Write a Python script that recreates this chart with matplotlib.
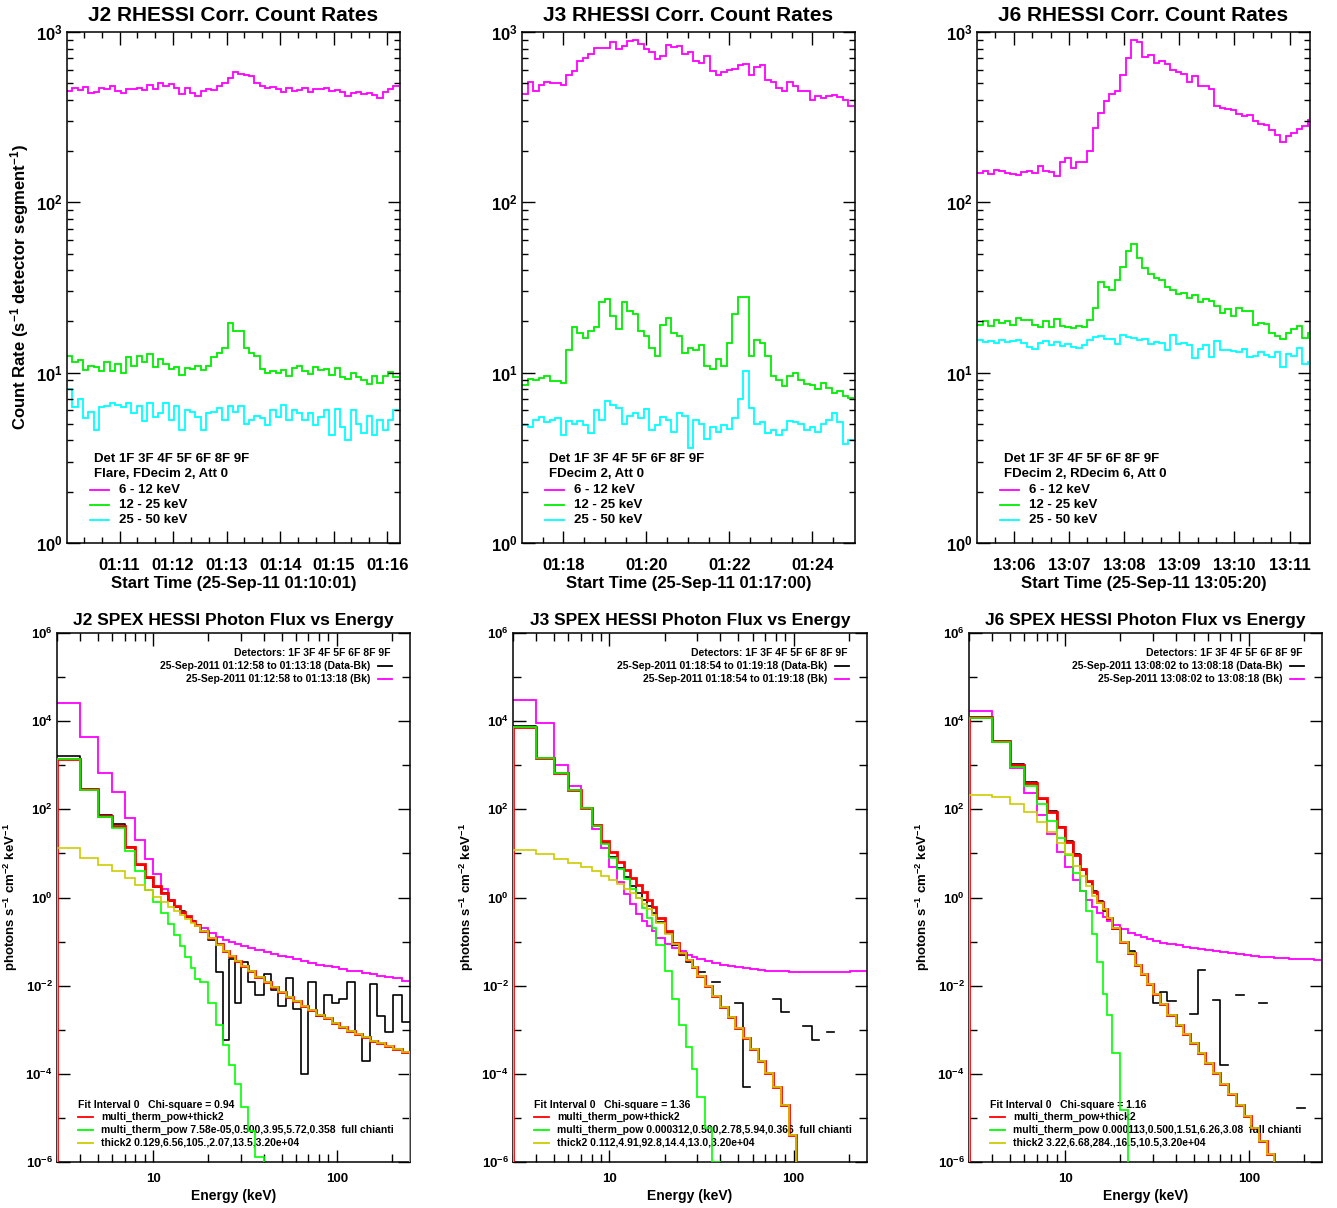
import numpy as np
import matplotlib
matplotlib.use("Agg")
import matplotlib.pyplot as plt
from matplotlib.ticker import FixedLocator, FuncFormatter, NullFormatter

plt.rcParams['font.family'] = 'Liberation Sans'
plt.rcParams['font.weight'] = 'bold'
plt.rcParams['axes.labelweight'] = 'bold'
plt.rcParams['axes.titleweight'] = 'bold'
plt.rcParams['mathtext.fontset'] = 'custom'
plt.rcParams['mathtext.rm'] = 'Liberation Sans:bold'
plt.rcParams['mathtext.it'] = 'Liberation Sans:bold'
plt.rcParams['mathtext.bf'] = 'Liberation Sans:bold'
plt.rcParams['mathtext.default'] = 'bf'

# ---------------- count rate light curves (top row) ----------------
# J2: 01:10:01, 6 s bins
j2_t0, j2_dt = 10 + 1 / 60, 6
j2_lo = [450, 470, 455, 475, 440, 445, 470, 460, 480, 450,
         440, 465, 460, 470, 455, 490, 460, 500, 480, 495,
         470, 430, 470, 440, 420, 450, 465, 455, 480, 500,
         540, 585, 570, 560, 555, 500, 480, 470, 475, 460,
         445, 470, 450, 455, 470, 445, 465, 460, 470, 450,
         455, 445, 420, 440, 445, 430, 440, 425, 410, 445,
         460, 480]
j2_mid = [12.5, 11.5, 11.8, 10.3, 11.0, 10.8, 10.2, 11.6, 10.2, 11.2,
          10.0, 12.3, 11.0, 12.5, 11.5, 12.8, 10.8, 12.0, 11.2, 10.5,
          10.8, 9.7, 10.6, 10.5, 10.9, 10.3, 11.0, 12.3, 13.0, 14.0,
          19.5, 17.5, 17.5, 14.0, 13.0, 12.5, 10.5, 10.0, 10.2, 10.0,
          10.3, 9.6, 10.6, 11.0, 10.2, 9.8, 10.8, 10.3, 10.5, 9.7,
          10.7, 9.4, 9.2, 10.0, 9.4, 9.0, 8.6, 9.5, 8.7, 9.6,
          10.1, 9.4]
j2_hi = [8.0, 6.3, 7.0, 5.4, 5.9, 4.6, 6.3, 6.4, 6.6, 6.5,
         6.3, 6.6, 5.8, 6.4, 5.2, 6.6, 5.5, 5.8, 6.6, 5.3,
         6.4, 4.6, 6.0, 5.9, 5.5, 4.6, 5.8, 5.9, 6.2, 5.3,
         6.4, 5.9, 6.4, 5.0, 5.3, 5.6, 5.4, 4.9, 6.0, 5.5,
         6.5, 5.3, 6.0, 5.8, 5.3, 5.8, 4.9, 5.5, 6.0, 4.3,
         6.1, 4.8, 4.0, 6.0, 5.0, 4.4, 5.6, 4.3, 5.3, 4.6,
         5.3, 6.0]

# J3: 01:17:00, 8 s bins
j3_t0, j3_dt = 17.0, 8
j3_lo = [430, 510, 450, 490, 510, 505, 500, 490, 560, 590,
         680, 700, 740, 810, 810, 810, 870, 800, 830, 890,
         900, 850, 790, 760, 690, 720, 840, 820, 830, 740,
         760, 680, 660, 720, 590, 560, 580, 600, 610, 640,
         650, 560, 620, 640, 520, 510, 470, 450, 510, 480,
         450, 450, 400, 420, 410, 420, 425, 415, 400, 370]
j3_mid = [8.5, 9.2, 9.0, 9.3, 9.6, 8.9, 8.9, 8.7, 13.5, 18.5,
          17.0, 16.0, 17.5, 18.5, 26.0, 27.0, 21.5, 18.0, 26.0, 23.0,
          22.0, 17.5, 16.5, 14.0, 12.5, 19.0, 21.0, 17.0, 16.5, 13.0,
          14.0, 13.5, 14.5, 11.0, 10.5, 12.0, 11.0, 15.0, 22.0, 28.0,
          28.0, 12.5, 15.5, 15.0, 12.5, 9.5, 9.0, 8.3, 9.5, 10.0,
          9.0, 8.6, 8.5, 8.0, 8.7, 8.1, 7.6, 7.8, 7.3, 7.1]
j3_hi = [4.9, 4.8, 5.3, 5.5, 5.1, 5.3, 5.4, 4.3, 5.2, 5.0,
         5.2, 4.9, 4.4, 6.0, 5.3, 6.8, 6.5, 6.2, 5.0, 5.6,
         5.8, 5.4, 6.1, 4.6, 4.9, 5.5, 5.3, 4.5, 5.8, 5.6,
         3.6, 5.3, 5.0, 4.1, 4.8, 4.5, 4.9, 4.7, 5.4, 7.0,
         10.2, 6.2, 5.0, 5.1, 4.4, 4.6, 4.3, 4.6, 5.2, 5.1,
         5.0, 4.6, 4.8, 4.5, 5.0, 5.3, 5.8, 5.1, 3.8, 4.0]

# J6: 13:05:20, 6 s bins
j6_t0, j6_dt = 5 + 20 / 60, 6
j6_lo = [148, 153, 146, 155, 152, 148, 146, 144, 151, 152,
         148, 163, 153, 150, 143, 172, 183, 160, 172, 173,
         200, 275, 335, 395, 430, 450, 560, 700, 900, 870,
         710, 730, 660, 680, 650, 600, 580, 565, 510, 550,
         485, 480, 465, 370, 360, 355, 350, 330, 320, 325,
         300, 290, 285, 265, 250, 225, 245, 255, 270, 280,
         305]
j6_mid = [19.0, 20.0, 18.8, 20.5, 19.5, 20.2, 19.0, 21.0, 20.5, 20.5,
          19.0, 18.5, 20.0, 18.6, 20.6, 18.8, 18.5, 18.2, 18.8, 18.5,
          20.5, 24.0, 34.0, 32.0, 30.5, 35.0, 42.0, 52.0, 57.0, 47.0,
          41.0, 38.0, 36.0, 35.0, 32.0, 30.5, 29.0, 29.5, 27.5, 28.5,
          26.0, 27.0, 26.5, 24.5, 22.5, 23.5, 21.5, 24.0, 23.0, 23.0,
          19.0, 19.5, 19.3, 17.0, 16.5, 15.8, 17.0, 18.0, 18.8, 16.0,
          17.2]
j6_hi = [15.5, 15.2, 15.4, 15.0, 15.5, 15.2, 15.4, 15.6, 15.0, 14.2,
         13.8, 15.0, 15.3, 14.6, 15.2, 14.4, 14.8, 14.2, 14.0, 14.5,
         15.6, 16.2, 16.4, 15.8, 15.8, 14.8, 16.6, 16.3, 16.0, 15.5,
         15.7, 14.8, 15.2, 15.0, 13.6, 16.7, 14.8, 14.9, 14.6, 12.2,
         13.8, 14.6, 12.3, 15.3, 13.5, 13.6, 13.4, 13.2, 13.7, 12.3,
         12.5, 13.3, 12.7, 12.4, 13.2, 10.8, 12.9, 12.6, 14.0, 11.3,
         11.6]

# ---------------- SPEX photon spectra (bottom row) ----------------
e_edges = [3, 4, 5, 6, 7, 8, 9, 10, 11, 12, 13, 14, 15, 16, 17, 18, 20, 22,
           24, 26, 28, 30, 33, 36, 40, 44, 48, 53, 58, 64, 70, 77, 85, 94,
           103, 113, 125, 137, 151, 166, 183, 202, 225, 250]
nan = np.nan

j2_bk = [26000, 4300, 660, 245, 63, 20, 7.6, 3.5, 1.6, 0.9, 0.6, 0.45, 0.36,
         0.29, 0.24, 0.2, 0.16, 0.13, 0.11, 0.1, 0.09, 0.08, 0.07, 0.064,
         0.058, 0.052, 0.047, 0.044, 0.04, 0.036, 0.033, 0.03, 0.028, 0.026,
         0.024, 0.022, 0.021, 0.019, 0.018, 0.017, 0.016, 0.015, 0.013]
j2_data = [1600, 290, 75, 47, 14, 5.5, 2.8, 1.75, 1.25, 0.85, 0.62, 0.5, 0.36,
           0.3, 0.22, 0.17, 0.11, 0.02, 0.0006, 0.04, 0.004, 0.035, 0.012,
           0.006, 0.018, 0.008, 0.0035, 0.015, 0.003, 0.0001, 0.012, 0.002,
           0.006, 0.004, 0.005, 0.012, 0.0008, 0.0002, 0.011, 0.002, 0.0009,
           0.006, 0.0015]
j2_total = [1400, 290, 72, 41, 14.3, 5.9, 2.95, 1.85, 1.25, 0.87, 0.64, 0.48,
            0.375, 0.295, 0.234, 0.176, 0.122, 0.086, 0.062, 0.047, 0.037,
            0.028, 0.021, 0.016, 0.012, 0.0092, 0.0072, 0.0056, 0.0044,
            0.0035, 0.0028, 0.0022, 0.0018, 0.0014, 0.00115, 0.00095, 0.0008,
            0.00067, 0.00057, 0.00049, 0.00042, 0.00036, 0.00031]
j2_therm = [1400, 280, 66, 37, 11.5, 3.9, 1.5, 0.8, 0.45, 0.25, 0.14, 0.08,
            0.045, 0.025, 0.014, 0.012, 0.004, 0.0013, 4.5e-4, 1.6e-4, 6e-5,
            1.8e-5, 5e-6, 1.3e-6, 3e-7, 6e-8]
j2_thick = [13, 8, 5.5, 3.9, 2.8, 1.95, 1.45, 1.05, 0.8, 0.62, 0.5, 0.4, 0.33,
            0.27, 0.22, 0.17, 0.12, 0.085, 0.062, 0.047, 0.037, 0.028, 0.021,
            0.016, 0.012, 0.0092, 0.0072, 0.0056, 0.0044, 0.0035, 0.0028,
            0.0022, 0.0018, 0.0014, 0.00115, 0.00095, 0.0008, 0.00067,
            0.00057, 0.00049, 0.00042, 0.00036, 0.00031]

j3_bk = [30000, 9000, 1000, 330, 110, 36, 13, 5, 2.3, 1.2, 0.7, 0.42, 0.3,
         0.22, 0.17, 0.12, 0.09, 0.07, 0.06, 0.05, 0.045, 0.04, 0.036, 0.033,
         0.03, 0.028, 0.026, 0.025, 0.024, 0.023, 0.022, 0.021, 0.021, 0.02,
         0.02, 0.02, 0.02, 0.02, 0.02, 0.02, 0.02, 0.021, 0.021]
j3_data = [7800, 1480, 670, 280, 107, 42, 17, 8.3, 4.7, 2.9, 1.8, 1.26, 0.89,
           0.63, 0.45, 0.28, 0.16, 0.085, 0.05, 0.035, nan, 0.02, nan, 0.012,
           nan, nan, 0.004, 5e-5, nan, nan, nan, 0.005, 0.0025, nan, nan,
           0.0012, 0.0006, nan, 0.0009, nan, nan, nan, nan]
j3_total = [7500, 1460, 660, 280, 110, 45, 19.6, 10.5, 6.4, 4.2, 2.8, 1.9, 1.3,
            0.88, 0.6, 0.345, 0.17, 0.095, 0.056, 0.038, 0.027, 0.017, 0.01,
            0.0058, 0.0033, 0.0019, 0.0011, 6.5e-4, 3.6e-4, 2e-4, 1.05e-4,
            5e-5, 2e-5, 4e-6, 5e-7, 5e-8]
j3_therm = [7500, 1450, 650, 275, 105, 41, 16.5, 8, 4.4, 2.6, 1.55, 0.95,
            0.58, 0.34, 0.2, 0.085, 0.022, 0.005, 0.0013, 4e-4, 1.3e-4, 3e-5,
            6e-6, 1e-6, 1.5e-7]
j3_thick = [12, 9.5, 7.5, 6, 4.8, 3.9, 3.1, 2.5, 2.0, 1.6, 1.25, 0.95, 0.72,
            0.54, 0.4, 0.26, 0.15, 0.09, 0.055, 0.038, 0.027, 0.017, 0.01,
            0.0058, 0.0033, 0.0019, 0.0011, 6.5e-4, 3.6e-4, 2e-4, 1.05e-4,
            5e-5, 2e-5, 4e-6, 5e-7, 5e-8]

j6_bk = [17000, 3500, 850, 230, 75, 28, 11, 5, 2.5, 1.4, 0.9, 0.6, 0.45,
         0.36, 0.3, 0.24, 0.19, 0.16, 0.14, 0.125, 0.115, 0.105, 0.095, 0.088,
         0.082, 0.077, 0.072, 0.068, 0.064, 0.06, 0.057, 0.054, 0.051, 0.049,
         0.047, 0.045, 0.044, 0.043, 0.042, 0.041, 0.04, 0.04, 0.039]
j6_data = [12500, 3600, 1050, 420, 175, 90, 40, 19, 9.5, 4.2, 2.3, 1.4, 0.85,
           0.5, 0.32, 0.19, 0.1, 0.06, 0.03, 0.018, 0.011, 0.004, 0.007,
           0.0045, nan, nan, 0.0023, 0.023, nan, 0.0047, 1.6e-4, nan, 0.006,
           nan, nan, 0.004, nan, nan, nan, nan, 1.7e-5, nan, nan]
j6_total = [12500, 3500, 1000, 400, 180, 85, 40, 18.5, 9, 4.5, 2.4, 1.35, 0.8,
            0.56, 0.35, 0.2, 0.1, 0.055, 0.03, 0.018, 0.011, 0.0065, 0.0038,
            0.0022, 0.0013, 8e-4, 5e-4, 3e-4, 1.8e-4, 1.05e-4, 6e-5, 3.5e-5,
            2e-5, 1.1e-5, 6e-6, 3e-6, 1.5e-6, 7e-7, 3e-7]
j6_therm = [12000, 3300, 900, 330, 130, 55, 22, 9, 3.6, 1.4, 0.5, 0.15, 0.035,
            0.0065, 0.0022, 3e-4, 1.5e-5, 5e-7, 1e-8]
j6_thick = [210, 190, 130, 85, 52, 30, 17, 9.5, 5.3, 3.0, 1.8, 1.1, 0.75,
            0.55, 0.35, 0.2, 0.1, 0.055, 0.03, 0.018, 0.011, 0.0065, 0.0038,
            0.0022, 0.0013, 8e-4, 5e-4, 3e-4, 1.8e-4, 1.05e-4, 6e-5, 3.5e-5,
            2e-5, 1.1e-5, 6e-6, 3e-6, 1.5e-6, 7e-7, 3e-7]

W, H = 1337, 1208
MAG, GRN, CYN = '#ff00ff', '#00ee00', '#00ffff'
fig = plt.figure(figsize=(W / 100, H / 100), dpi=100)


def px_axes(x0, y0, x1, y1):
    return fig.add_axes([x0 / W, 1 - y1 / H, (x1 - x0) / W, (y1 - y0) / H])


def pow_fmt(v, pos):
    return r'$10^{%d}$' % round(np.log10(v))


def style(ax):
    ax.tick_params(which='both', direction='in', top=True, right=True, width=1)
    ax.tick_params(which='major', length=9)
    ax.tick_params(which='minor', length=4.5)
    for s in ax.spines.values():
        s.set_linewidth(1.1)


def rate_panel(box, t0, dt, series, hour, title, start, info, xlim, major, minor):
    ax = px_axes(*box)
    for vals, c in zip(series, (MAG, GRN, CYN)):
        t = t0 + np.arange(len(vals) + 1) * dt / 60
        ax.stairs(vals, t, color=c, lw=1.3, baseline=None)
    ax.set_yscale('log')
    ax.set_ylim(1, 1000)
    ax.set_xlim(*xlim)
    ax.yaxis.set_major_locator(FixedLocator([1, 10, 100, 1000]))
    ax.yaxis.set_minor_locator(FixedLocator([m * 10 ** d for d in range(3) for m in range(2, 10)]))
    ax.yaxis.set_major_formatter(FuncFormatter(pow_fmt))
    ax.yaxis.set_minor_formatter(NullFormatter())
    ax.xaxis.set_major_locator(FixedLocator(major))
    ax.xaxis.set_minor_locator(FixedLocator(minor))
    ax.xaxis.set_major_formatter(FuncFormatter(lambda v, p: '%02d:%02d' % (hour, round(v))))
    style(ax)
    ax.tick_params(axis='x', labelsize=12, pad=11)
    ax.tick_params(axis='y', labelsize=12, pad=3)
    ax.set_title(title, fontsize=15, pad=8)
    ax.set_xlabel('Start Time (%s)' % start, fontsize=12, labelpad=2)
    ax.text(0.08, 0.164, 'Det 1F 3F 4F 5F 6F 8F 9F', transform=ax.transAxes,
            fontsize=9.5, va='center')
    ax.text(0.08, 0.135, info, transform=ax.transAxes, fontsize=9.5, va='center')
    for yy, c, lab in zip((0.104, 0.074, 0.045), (MAG, GRN, CYN),
                          ('6 - 12 keV', '12 - 25 keV', '25 - 50 keV')):
        ax.plot([0.07, 0.125], [yy, yy], color=c, lw=1.3, transform=ax.transAxes)
        ax.text(0.155, yy, lab, transform=ax.transAxes, fontsize=9.5, va='center')
    return ax


ax = rate_panel((67, 32, 400, 543), j2_t0, j2_dt, (j2_lo, j2_mid, j2_hi), 1,
                'J2 RHESSI Corr. Count Rates', '25-Sep-11 01:10:01',
                'Flare, FDecim 2, Att 0', (10 + 1 / 60, 16.24),
                [11, 12, 13, 14, 15, 16],
                [10 + k / 3 for k in range(1, 19)])
ax.set_ylabel('Count Rate (s$^{-1}$ detector segment$^{-1}$)', fontsize=12, labelpad=4)
rate_panel((522, 32, 855, 543), j3_t0, j3_dt, (j3_lo, j3_mid, j3_hi), 1,
           'J3 RHESSI Corr. Count Rates', '25-Sep-11 01:17:00',
           'FDecim 2, Att 0', (17.0, 25.03), [18, 20, 22, 24],
           [17 + k / 2 for k in range(1, 16)])
rate_panel((977, 32, 1310, 543), j6_t0, j6_dt, (j6_lo, j6_mid, j6_hi), 13,
           'J6 RHESSI Corr. Count Rates', '25-Sep-11 13:05:20',
           'FDecim 2, RDecim 6, Att 0', (5 + 20 / 60, 11.37),
           [6, 7, 8, 9, 10, 11], [5 + k / 3 for k in range(2, 19)])


def spex_panel(box, name, t_range, bk, data, total, therm, thick, chi, p_therm, p_thick):
    ax = px_axes(*box)
    e = np.array(e_edges)
    ax.stairs(bk, e[:len(bk) + 1], color=MAG, lw=1.3, baseline=None, zorder=2)
    ax.step(e[:len(data) + 1], list(data) + [data[-1]], where='post', color='black', lw=1.2, zorder=2)
    ax.stairs(total, e[:len(total) + 1], color='red', lw=2.0, baseline=1e-12, zorder=3)
    ax.stairs(therm, e[:len(therm) + 1], color='#00ff00', lw=1.2, baseline=1e-12, zorder=4)
    ax.stairs(thick, e[:len(thick) + 1], color='#cccc00', lw=1.2, baseline=1e-12, zorder=4)
    ax.set_xscale('log')
    ax.set_yscale('log')
    ax.set_xlim(3, 250)
    ax.set_ylim(1e-6, 1e6)
    ax.xaxis.set_major_locator(FixedLocator([10, 100]))
    ax.xaxis.set_minor_locator(FixedLocator([3, 4, 5, 6, 7, 8, 9, 20, 30, 40, 50, 60, 70, 80, 90, 200]))
    ax.xaxis.set_major_formatter(FuncFormatter(lambda v, p: '%d' % v))
    ax.xaxis.set_minor_formatter(NullFormatter())
    ax.yaxis.set_major_locator(FixedLocator([10.0 ** k for k in range(-6, 7, 2)]))
    ax.yaxis.set_minor_locator(FixedLocator([10.0 ** k for k in range(-5, 6, 2)]))
    ax.yaxis.set_major_formatter(FuncFormatter(pow_fmt))
    ax.yaxis.set_minor_formatter(NullFormatter())
    style(ax)
    ax.tick_params(which='minor', length=6)
    ax.tick_params(axis='both', labelsize=9.5)
    ax.tick_params(axis='x', pad=8)
    ax.tick_params(axis='y', pad=3)
    ax.set_title('%s SPEX HESSI Photon Flux vs Energy' % name, fontsize=12.5, pad=6)
    ax.set_xlabel('Energy (keV)', fontsize=10, labelpad=3)
    ax.set_ylabel('photons s$^{-1}$ cm$^{-2}$ keV$^{-1}$', fontsize=9.5, labelpad=4)
    fs = 7.5
    ax.text(0.946, 0.962, 'Detectors: 1F 3F 4F 5F 6F 8F 9F', transform=ax.transAxes,
            fontsize=fs, ha='right', va='center')
    for yy, c, lab in ((0.938, 'black', '(Data-Bk)'), (0.913, MAG, '(Bk)')):
        ax.text(0.887, yy, '25-Sep-2011 %s %s' % (t_range, lab), transform=ax.transAxes,
                fontsize=fs, ha='right', va='center')
        ax.plot([0.909, 0.949], [yy, yy], color=c, lw=1.3, transform=ax.transAxes)
    ax.text(0.059, 0.108, 'Fit Interval 0   Chi-square = %s' % chi, transform=ax.transAxes,
            fontsize=fs, va='center')
    rows = ((0.085, 'red', 'multi_therm_pow+thick2'),
            (0.060, '#00ff00', 'multi_therm_pow %s  full chianti' % p_therm),
            (0.036, '#cccc00', 'thick2 %s' % p_thick))
    for yy, c, lab in rows:
        ax.plot([0.059, 0.102], [yy, yy], color=c, lw=1.3, transform=ax.transAxes)
        ax.text(0.125, yy, lab, transform=ax.transAxes, fontsize=fs, va='center')
    return ax


spex_panel((57, 633, 410, 1162), 'J2', '01:12:58 to 01:13:18', j2_bk, j2_data,
           j2_total, j2_therm, j2_thick, '0.94',
           '7.58e-05,0.500,3.95,5.72,0.358', '0.129,6.56,105.,2.07,13.5,3.20e+04')
spex_panel((513, 633, 867, 1162), 'J3', '01:18:54 to 01:19:18', j3_bk, j3_data,
           j3_total, j3_therm, j3_thick, '1.36',
           '0.000312,0.500,2.78,5.94,0.366', '0.112,4.91,92.8,14.4,13.0,3.20e+04')
spex_panel((969, 633, 1322, 1162), 'J6', '13:08:02 to 13:08:18', j6_bk, j6_data,
           j6_total, j6_therm, j6_thick, '1.16',
           '0.000113,0.500,1.51,6.26,3.08', '3.22,6.68,284.,16.5,10.5,3.20e+04')

fig.savefig('out.png', dpi=100)
